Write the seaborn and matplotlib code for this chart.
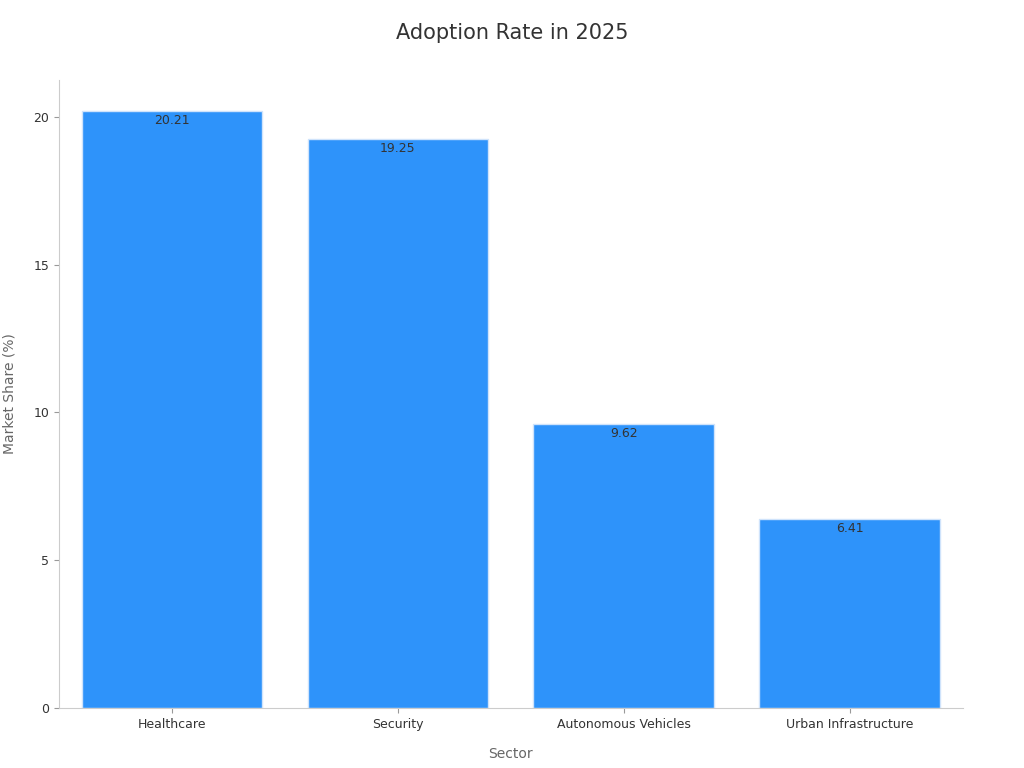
import matplotlib
matplotlib.use("Agg")
import matplotlib.pyplot as plt
import seaborn as sns
import pandas as pd

sectors = ["Healthcare", "Security", "Autonomous Vehicles", "Urban Infrastructure"]
shares = [20.21, 19.25, 9.62, 6.41]

df = pd.DataFrame({"Sector": sectors, "Share": shares})
fig = plt.figure(figsize=(10.24, 7.68), dpi=100)
ax = fig.add_axes([0.0576, 0.078, 0.8826, 0.818])
sns.barplot(data=df, x="Sector", y="Share", color="#2E93FA", saturation=1, width=0.8,
            edgecolor="#cfe3fb", linewidth=1, ax=ax)
for i, v in enumerate(shares):
    ax.text(i, v - 0.1, f"{v:.2f}", ha="center", va="top", fontsize=9, color="#333333")
ax.set_xlim(-0.5, 3.5)
ax.set_ylim(0, 21.25)
ax.set_yticks([0, 5, 10, 15, 20])
ax.set_xlabel("Sector", fontsize=10, color="#666666", labelpad=12)
ax.set_ylabel("Market Share (%)", fontsize=10, color="#666666", labelpad=12)
ax.tick_params(labelsize=9, colors="#333333")
ax.tick_params(color="#999999")
for s in ["top", "right"]:
    ax.spines[s].set_visible(False)
for s in ["left", "bottom"]:
    ax.spines[s].set_color("#cccccc")
fig.text(0.5, 0.957, "Adoption Rate in 2025", ha="center", va="center", fontsize=15, color="#333333")
fig.savefig("out.png", dpi=100)
